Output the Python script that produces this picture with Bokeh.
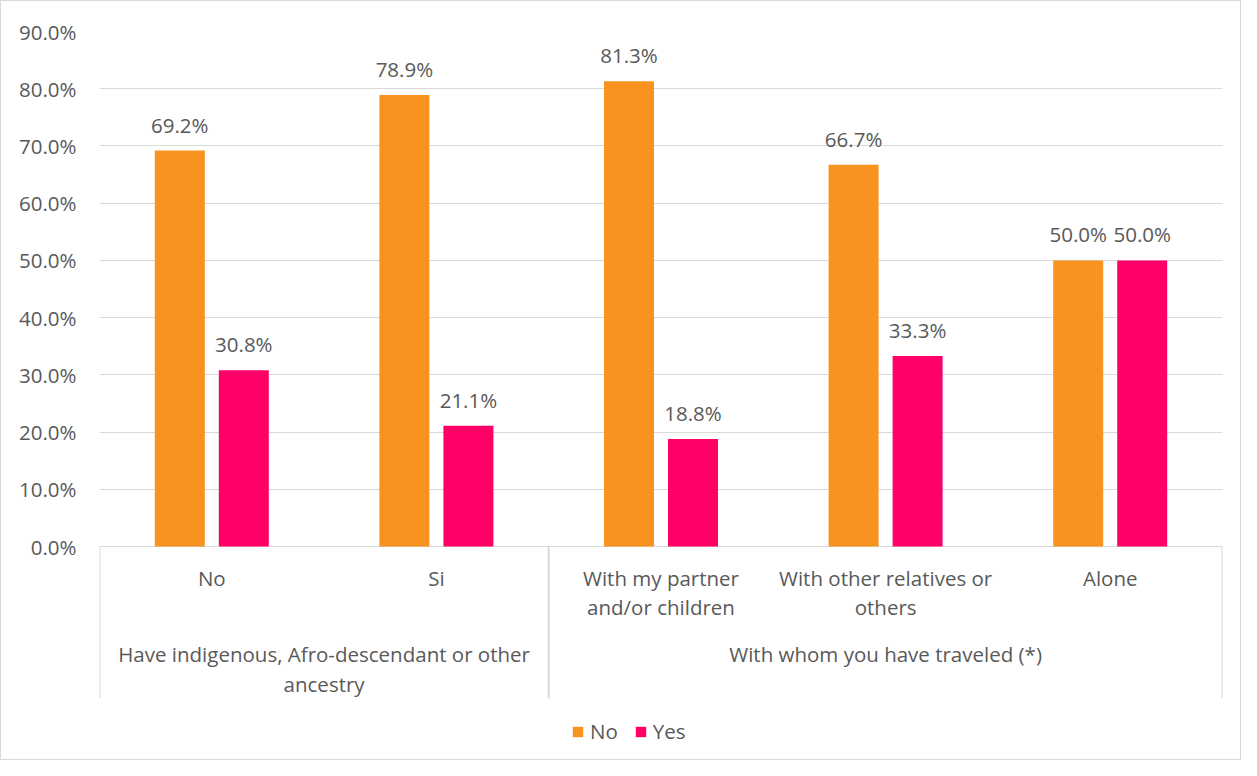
from bokeh.plotting import figure
from bokeh.models import (ColumnDataSource, Range1d, FixedTicker, NumeralTickFormatter,
                          Legend, LegendItem)
from bokeh.core.properties import value
from bokeh.embed import file_html
from bokeh.resources import INLINE

# ---- data ----
categories = ["No", "Si", "With my partner\nand/or children", "With other relatives or\nothers", "Alone"]
groups = ["Have indigenous, Afro-descendant or other\nancestry", "With whom you have traveled (*)"]
group_sizes = [2, 3]
no_values = [0.692, 0.789, 0.813, 0.667, 0.500]
yes_values = [0.308, 0.211, 0.188, 0.333, 0.500]
series_names = ["No", "Yes"]
y_ticks = [0.0, 0.1, 0.2, 0.3, 0.4, 0.5, 0.6, 0.7, 0.8, 0.9]

# ---- styles ----
ORANGE = "#F7931E"
PINK = "#FF0066"
TEXT = "#595959"
GRID = "#D9D9D9"
FONT = "Open Sans"
SMALL = "20.5px"
BIG = "20.5px"

W, H = 1241, 760
p = figure(width=W, height=H, output_backend="svg", toolbar_location=None,
           x_range=Range1d(0, len(categories)), y_range=Range1d(-0.3722, 0.9),
           min_border_left=98, min_border_right=20, min_border_top=30, min_border_bottom=2)
p.styles = {"border": "1px solid #D9D9D9"}
p.outline_line_color = None
p.xaxis.visible = False
p.xgrid.visible = False
p.ygrid.ticker = FixedTicker(ticks=y_ticks)
p.ygrid.grid_line_color = GRID
p.ygrid.grid_line_width = 1
p.yaxis.ticker = FixedTicker(ticks=y_ticks)
p.yaxis.formatter = NumeralTickFormatter(format="0.0%")
p.yaxis.axis_line_color = None
p.yaxis.major_tick_line_color = None
p.yaxis.minor_tick_line_color = None
p.yaxis.major_label_standoff = 17
p.yaxis.major_label_text_font = FONT
p.yaxis.major_label_text_font_size = SMALL
p.yaxis.major_label_text_color = TEXT

n = len(categories)
centers = [i + 0.5 for i in range(n)]
bw = 0.2226
off = 0.1425

src = ColumnDataSource(dict(
    x_no=[c - off for c in centers], x_yes=[c + off for c in centers],
    no=no_values, yes=yes_values,
    no_lab=[f"{v*100:.1f}%" for v in no_values],
    yes_lab=[f"{v*100:.1f}%" for v in yes_values],
))
r_no = p.vbar(x="x_no", top="no", width=bw, bottom=0, source=src, fill_color=ORANGE, line_color=None)
r_yes = p.vbar(x="x_yes", top="yes", width=bw, bottom=0, source=src, fill_color=PINK, line_color=None)

for xk, yk, lk in [("x_no", "no", "no_lab"), ("x_yes", "yes", "yes_lab")]:
    p.text(x=xk, y=yk, text=lk, source=src, text_align="center", text_baseline="middle",
           y_offset=-26, text_font=value(FONT), text_font_size=SMALL, text_color=TEXT)

# category labels (table style axis)
lx, ly, lt = [], [], []
for c, lab in zip(centers, categories):
    for j, line in enumerate(lab.split("\n")):
        lx.append(c); ly.append(-0.0542 - j * 0.0507); lt.append(line)
gstart = 0
gx_edges = [0]
for g, sz in zip(groups, group_sizes):
    gc = gstart + sz / 2
    for j, line in enumerate(g.split("\n")):
        lx.append(gc); ly.append(-0.1887 - j * 0.0507); lt.append(line)
    gstart += sz
    gx_edges.append(gstart)
p.text(x=lx, y=ly, text=lt, text_align="center", text_baseline="middle",
       text_font=value(FONT), text_font_size=BIG, text_color=TEXT)

# table lines
p.segment(x0=gx_edges, y0=[0] * len(gx_edges), x1=gx_edges, y1=[-0.2656] * len(gx_edges),
          line_color=GRID, line_width=2)

legend = Legend(items=[LegendItem(label=series_names[0], renderers=[r_no]),
                       LegendItem(label=series_names[1], renderers=[r_yes])],
                orientation="horizontal", location=(472, 14),
                glyph_width=13, glyph_height=13, label_standoff=6, spacing=16,
                padding=0, margin=0, border_line_color=None, background_fill_alpha=0,
                label_text_font=FONT, label_text_font_size=BIG, label_text_color=TEXT,
                label_height=20)
p.add_layout(legend)

open("out.html", "w").write(file_html(p, INLINE))
